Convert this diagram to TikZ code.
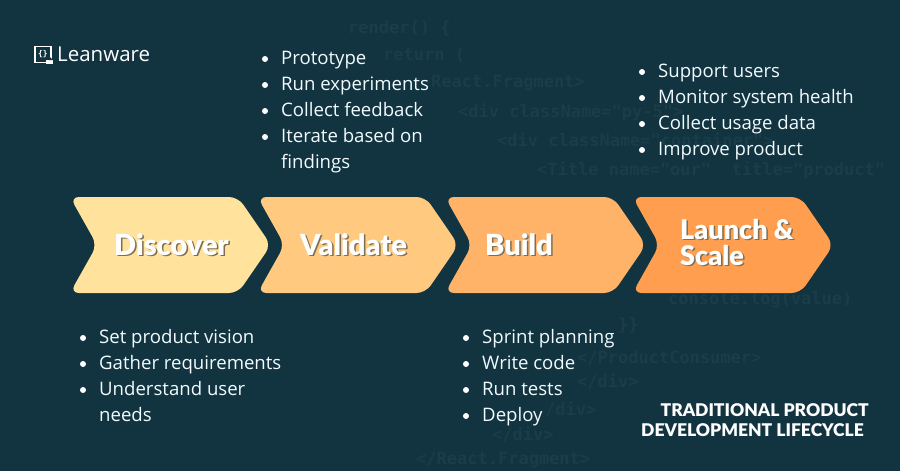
\documentclass[tikz,border=0pt]{standalone}
\usepackage{fontspec}
\setmainfont{Open Sans}
\newfontfamily\headfont{Lato}[BoldFont={Lato Black}]
\newfontfamily\codefont{DejaVu Sans Mono}
\definecolor{bgc}{HTML}{123340}
\definecolor{codec}{HTML}{1A3D49}
\definecolor{cA}{HTML}{FFE29C}
\definecolor{cB}{HTML}{FFCA80}
\definecolor{cC}{HTML}{FFB368}
\definecolor{cD}{HTML}{FF9E4E}
\definecolor{shadowc}{HTML}{7F6F52}
\tikzset{
  x=1pt,y=-1pt,
  chev/.style={rounded corners=9pt},
  bul/.style={anchor=base west,font=\fontsize{18.6}{18.6}\selectfont,inner sep=0pt,text=white!95!cyan},
  dot/.style={circle,fill=white,inner sep=0pt,minimum size=6pt},
  codet/.style={text=codec,anchor=base west,font=\codefont\bfseries\fontsize{17}{17}\selectfont,inner sep=0pt},
  stitle/.style={anchor=base west,inner sep=0pt},
  ttl/.style={text=white,anchor=base east,inner sep=0pt,font=\headfont\bfseries\fontsize{17.5}{17.5}\selectfont},
}
\newcommand{\chevshape}[2]{% x offset, colour
  \fill[#2,chev] (#1+70,197) -- (#1+238,197) -- (#1+271,245) -- (#1+238,293) -- (#1+70,293) -- (#1+97,245) -- cycle;
}
\newcommand{\shtext}[5]{% name, x, y, size, text
  \node[stitle,text=shadowc,font=\headfont\bfseries\fontsize{#4}{#4}\selectfont] at (#2+1.5,#3+1.5) {#5};
  \node[stitle,text=white,font=\headfont\bfseries\fontsize{#4}{#4}\selectfont] (#1) at (#2,#3) {#5};
}
\newcommand{\bitem}[4]{%
  \node[dot] (d#1) at (#2-16,#3-5) {};
  \node[bul] (i#1) at (#2,#3) {#4};
}
\begin{document}
\begin{tikzpicture}
\useasboundingbox (0,0) rectangle (900,471);
\clip (0,0) rectangle (900,471);
\fill[bgc] (0,0) rectangle (900,471);
% faint code
\node[codet] (c1) at (348,33) {render() \{};
\node[codet] (c2) at (383,60) {return (};
\node[codet] (c3) at (431,87) {React.Fragment>};
\node[codet] (c4) at (458,117) {<div className="py-5">};
\node[codet] (c5) at (497,146) {<div className="container">};
\node[codet] (c6) at (537,175) {<Title name="our"\ \ title="product"};
\node[codet] (c7) at (668,304) {console.log(value)};
\node[codet] (c8) at (618,330) {\}\}};
\node[codet] (c9) at (577,363) {</ProductConsumer>};
\node[codet] (c10) at (577,387) {</div>};
\node[codet] (c11) at (545,415) {/div>};
\node[codet] (c12) at (492,440) {</div>};
\node[codet] (c13) at (416,464) {</React.Fragment>};
% chevrons
\chevshape{0}{cA}
\chevshape{187.5}{cB}
\chevshape{375}{cC}
\chevshape{562.5}{cD}
\shtext{tA}{114}{255}{29}{Discover}
\shtext{tB}{300}{255}{29}{Validate}
\shtext{tC}{485}{255}{29}{Build}
\shtext{tD}{680}{239}{27}{Launch \&}
\shtext{tE}{680}{265}{27}{Scale}
% logo
\draw[white,line width=1.8pt] (35,46.5) rectangle (51,62.5);
\fill[white] (46,60) -- (53,60) -- (53,64) -- (46,64) -- cycle;
\fill[bgc] (50,57) -- (53,60) -- (49,60) -- cycle;
\node[text=white,inner sep=0pt,font=\codefont\bfseries\fontsize{8}{8}\selectfont] (lg) at (43,54) {\{\}};
\node[text=white,anchor=base west,inner sep=0pt,font=\fontsize{20.5}{20.5}\selectfont] (logo) at (57,61.5) {Leanware};
% lists
\bitem{a1}{281}{64}{Prototype}
\bitem{a2}{281}{90}{Run experiments}
\bitem{a3}{281}{116}{Collect feedback}
\bitem{a4}{281}{142}{Iterate based on}
\node[bul] (a5) at (281,168) {findings};
\bitem{b1}{658}{77}{Support users}
\bitem{b2}{658}{103}{Monitor system health}
\bitem{b3}{658}{129}{Collect usage data}
\bitem{b4}{658}{155}{Improve product}
\bitem{c1}{99}{343}{Set product vision}
\bitem{c2}{99}{369}{Gather requirements}
\bitem{c3}{99}{395}{Understand user}
\node[bul] (c4x) at (99,421) {needs};
\bitem{e1}{482}{343}{Sprint planning}
\bitem{e2}{482}{369}{Write code}
\bitem{e3}{482}{395}{Run tests}
\bitem{e4}{482}{421}{Deploy}
% title
\node[ttl] (t1) at (869,416.5) {TRADITIONAL PRODUCT};
\node[ttl] (t2) at (864,436.5) {DEVELOPMENT LIFECYCLE};
\end{tikzpicture}
\end{document}
